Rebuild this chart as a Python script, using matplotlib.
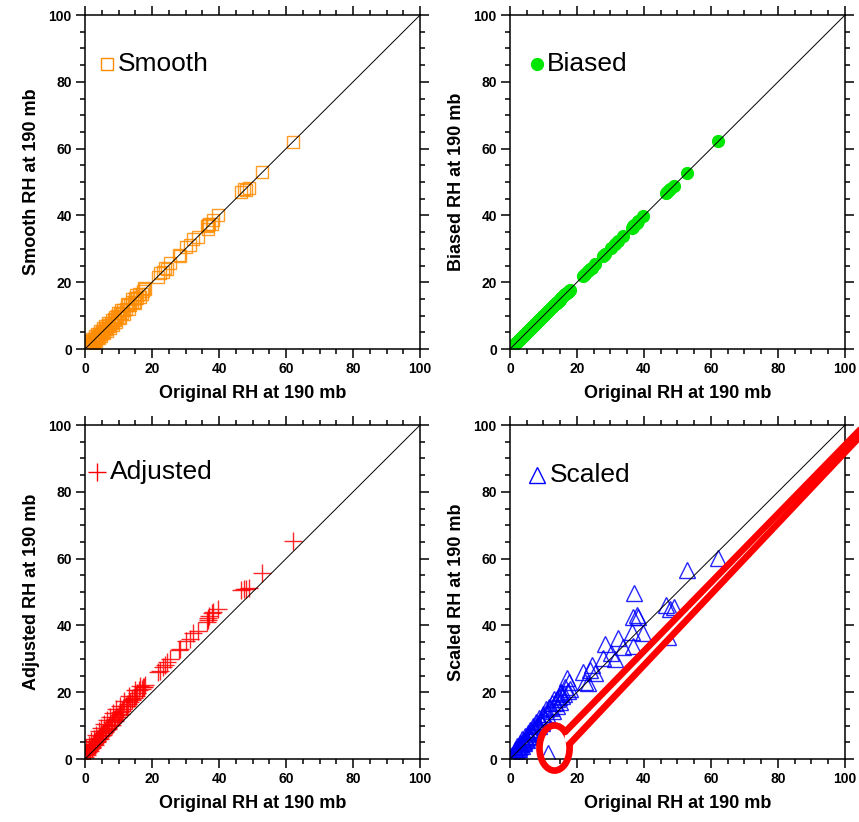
import numpy as np
import matplotlib
matplotlib.use("Agg")
import matplotlib.pyplot as plt
from matplotlib.patches import Ellipse, Polygon

plt.rcParams['font.family'] = ['Liberation Sans', 'DejaVu Sans']

# Original RH values (shared x for all four panels)
x_orig = [62.2, 52.8, 48.9, 47.9, 47.3, 46.6, 39.8, 38.3, 37.8, 37.0, 36.8, 36.6, 36.3,
          33.8, 32.3, 31.3, 30.1, 28.4, 27.9, 25.4, 24.4, 23.9, 23.3, 22.4, 21.9,
          17.8, 17.2, 16.9, 16.2, 15.6, 15.0, 14.5, 13.9, 13.4, 12.8, 12.3, 11.4, 11.0,
          10.5, 10.0, 9.5, 9.0, 8.6, 8.1, 7.6, 7.2, 6.8, 6.3, 5.9, 5.5, 5.1, 4.7, 4.3,
          3.9, 3.5, 3.1, 2.8, 2.4, 2.0, 1.6, 1.3, 0.9, 0.6, 0.3,
          0.1, 0.4, 0.7, 1.1, 1.5, 1.9, 2.2, 2.6, 3.0, 3.3, 3.7, 4.1, 4.5, 4.9, 5.3, 5.7,
          6.1, 6.6, 7.0, 7.4, 7.9, 8.4, 8.8, 9.3, 9.8, 10.3, 10.8, 11.7, 12.6, 13.2, 14.1,
          14.8, 15.3, 16.5, 17.5]

y_smooth = [62.0, 53.0, 48.2, 47.5, 47.8, 46.9, 40.0, 38.6, 37.4, 37.3, 37.2, 36.0, 36.8,
            33.5, 32.8, 31.0, 30.4, 28.0, 28.3, 25.8, 24.0, 24.3, 23.0, 22.8, 21.5,
            18.1, 17.5, 16.6, 16.5, 15.3, 15.4, 14.2, 14.2, 13.1, 13.1, 12.0, 11.7, 10.7,
            10.8, 9.7, 9.8, 8.7, 8.9, 7.8, 7.9, 6.9, 7.1, 6.0, 6.2, 5.2, 5.4, 4.4, 4.6,
            3.6, 3.8, 2.8, 3.1, 2.1, 2.3, 1.3, 1.6, 0.6, 0.9, 0.1,
            1.0, 0.0, 1.6, 0.3, 2.4, 1.0, 3.1, 1.7, 3.9, 2.5, 4.6, 3.2, 5.4, 3.9, 6.2, 4.7,
            7.0, 5.5, 7.9, 6.3, 8.8, 7.3, 9.7, 8.2, 10.7, 9.2, 11.8, 10.6, 13.6, 12.1, 15.1,
            13.8, 16.3, 15.6, 18.3]

y_biased = [62.2, 52.8, 48.9, 47.9, 47.3, 46.6, 39.8, 38.3, 37.8, 37.0, 36.8, 36.6, 36.3,
            33.8, 32.3, 31.3, 30.1, 28.4, 27.9, 25.4, 24.4, 23.9, 23.3, 22.4, 21.9,
            17.8, 17.2, 16.9, 16.2, 15.6, 15.0, 14.5, 13.9, 13.4, 12.8, 12.3, 11.4, 11.0,
            10.5, 10.0, 9.5, 9.0, 8.6, 8.1, 7.6, 7.2, 6.8, 6.3, 5.9, 5.5, 5.1, 4.7, 4.3,
            3.9, 3.5, 3.1, 2.8, 2.4, 2.0, 1.6, 1.3, 0.9, 0.6, 0.3,
            0.1, 0.4, 0.7, 1.1, 1.5, 1.9, 2.2, 2.6, 3.0, 3.3, 3.7, 4.1, 4.5, 4.9, 5.3, 5.7,
            6.1, 6.6, 7.0, 7.4, 7.9, 8.4, 8.8, 9.3, 9.8, 10.3, 10.8, 11.7, 12.6, 13.2, 14.1,
            14.8, 15.3, 16.5, 17.5]

y_adjusted = [65.3, 55.8, 51.3, 50.9, 51.0, 50.5, 45.0, 44.0, 43.6, 42.8, 42.3, 41.5, 41.0,
              38.3, 37.8, 36.0, 35.4, 33.0, 32.6, 30.0, 29.0, 28.3, 27.5, 26.4, 26.0,
              22.3, 21.6, 21.0, 20.7, 19.8, 19.0, 18.4, 17.9, 17.2, 16.5, 16.0, 15.0, 14.4,
              14.0, 13.3, 12.7, 12.0, 11.6, 11.0, 10.3, 9.9, 9.4, 8.8, 8.3, 7.9, 7.3, 6.9,
              6.4, 5.9, 5.5, 5.0, 4.6, 4.1, 3.6, 3.1, 2.7, 2.2, 1.8, 1.6,
              0.6, 3.4, 1.2, 4.3, 2.3, 5.4, 3.2, 6.1, 4.3, 7.2, 5.1, 8.4, 6.0, 9.4, 7.1, 10.5,
              8.0, 11.6, 9.1, 12.7, 10.2, 13.8, 11.3, 14.9, 12.5, 16.0, 13.6, 17.4, 15.9, 19.0,
              17.6, 20.6, 19.0, 22.0, 21.7]

y_scaled = [60.2, 56.6, 45.5, 45.0, 36.5, 46.1, 37.8, 42.5, 43.1, 49.7, 33.8, 42.6, 38.1,
            33.6, 36.1, 30.1, 31.8, 34.4, 30.4, 25.7, 28.1, 26.6, 22.7, 23.0, 26.1,
            21.0, 20.5, 24.2, 19.5, 18.8, 17.0, 18.5, 16.0, 16.8, 14.5, 15.3, 1.9, 13.5,
            12.0, 13.0, 10.8, 11.5, 9.8, 10.2, 8.5, 9.0, 7.6, 8.0, 6.5, 7.0, 5.8, 5.9,
            4.8, 5.0, 3.9, 4.0, 3.1, 3.0, 2.2, 2.0, 1.4, 1.1, 0.7, 0.3,
            0.1, 0.8, 1.3, 1.8, 2.6, 2.9, 3.8, 3.6, 4.9, 4.4, 5.9, 5.3, 6.8, 6.2, 7.9, 7.0,
            8.8, 8.1, 10.0, 9.1, 11.1, 10.4, 12.3, 11.5, 13.6, 12.6, 14.9, 15.6, 16.8, 17.9,
            18.0, 19.8, 20.0, 21.5, 23.2]

panels = [
    # (y values, label, marker, color, filled, size, rect)
    (y_smooth, 'Smooth', 's', '#FF8C00', False, 8.5, [0.099, 0.5754, 0.390, 0.4063]),
    (y_biased, 'Biased', 'o', '#00E600', True, 8.5, [0.5937, 0.5754, 0.390, 0.4063]),
    (y_adjusted, 'Adjusted', '+', '#FF0000', False, 13, [0.099, 0.0766, 0.390, 0.4063]),
    (y_scaled, 'Scaled', '^', '#0000FF', False, 11, [0.5937, 0.0766, 0.390, 0.4063]),
]
legend_xy = [(6.6, 85.3, 9.9), (8.1, 85.3, 11.0), (3.6, 85.9, 7.5), (8.1, 85.0, 11.9)]

fig = plt.figure(figsize=(8.59, 8.22), dpi=100)
axes = []
for (yv, name, mk, col, filled, ms, rect), (lx, ly, tx) in zip(panels, legend_xy):
    ax = fig.add_axes(rect)
    axes.append(ax)
    ax.plot([0, 100], [0, 100], color='black', lw=0.7, zorder=3)
    if filled:
        ax.plot(x_orig, yv, ls='none', marker=mk, ms=ms, color=col, mec=col, zorder=2)
        ax.plot([lx], [ly], ls='none', marker=mk, ms=ms, color=col, mec=col)
    elif mk == '+':
        ax.plot(x_orig, yv, ls='none', marker=mk, ms=ms, color=col, mew=1.0, alpha=0.85, zorder=2)
        ax.plot([lx], [ly], ls='none', marker=mk, ms=ms, color=col, mew=1.0)
    else:
        ax.plot(x_orig, yv, ls='none', marker=mk, ms=ms, mfc='none', mec=col, mew=1.0,
                alpha=0.85, zorder=2)
        ax.plot([lx], [ly], ls='none', marker=mk, ms=ms, mfc='none', mec=col, mew=1.0)
    ax.text(tx, ly, name, fontsize=19, va='center', ha='left')

    ax.set_xlim(0, 100)
    ax.set_ylim(0, 100)
    ax.set_xticks(np.arange(0, 101, 20))
    ax.set_yticks(np.arange(0, 101, 20))
    ax.set_xticks(np.arange(0, 101, 5), minor=True)
    ax.set_yticks(np.arange(0, 101, 5), minor=True)
    ax.tick_params(which='both', direction='out', top=True, right=True, width=1.1)
    ax.tick_params(which='major', length=6.5, labelsize=10, pad=3)
    ax.tick_params(which='minor', length=3.5)
    for lab in ax.get_xticklabels() + ax.get_yticklabels():
        lab.set_fontweight('bold')
    for sp in ax.spines.values():
        sp.set_linewidth(1.1)
    ax.set_xlabel('Original RH at 190 mb', fontsize=13, fontweight='bold', labelpad=6)
    ax.set_ylabel(name + ' RH at 190 mb', fontsize=13, fontweight='bold', labelpad=6)

# red callout around the outlier in the Scaled panel
ax4 = axes[3]
ec_xy, ea, eb = np.array([13.3, 3.3]), 4.5, 6.75
ell = Ellipse(ec_xy, 2 * ea, 2 * eb, fill=False, ec='red', lw=4.8, clip_on=False, zorder=5)
ax4.add_patch(ell)
c0 = np.array([19.4, 8.7])
d = np.array([84.8, 88.6])
u = d / np.hypot(*d)
n = np.array([-u[1], u[0]])
end = c0 + 1.4 * d
w0, w1 = 1.7, 0.3


def exit_point(p, v):
    # where the line p + s*v leaves the ellipse (largest root)
    q = (p - ec_xy) / [ea, eb]
    w = v / [ea, eb]
    A, B, C = w @ w, 2 * q @ w, q @ q - 1
    s = (-B + np.sqrt(B * B - 4 * A * C)) / (2 * A)
    return p + s * v


sides = []
for sgn in (1, -1):
    p_far = end + sgn * w1 * n
    p_near = c0 + sgn * w0 * n
    v = p_far - p_near
    sides.append((exit_point(p_near, v / np.hypot(*v)), p_far))
(ls_, le_), (rs_, re_) = sides
inner = (ls_ + rs_) / 2 - 1.2 * u
fillpoly = Polygon([ls_, le_, re_, rs_, inner], closed=True, fc='white', ec='none',
                   clip_on=False, zorder=6)
ax4.add_patch(fillpoly)
for s0, s1 in sides:
    ax4.plot([s0[0], s1[0]], [s0[1], s1[1]], color='red', lw=4.8,
             solid_capstyle='round', clip_on=False, zorder=7)

fig.savefig('out.png', dpi=100)
